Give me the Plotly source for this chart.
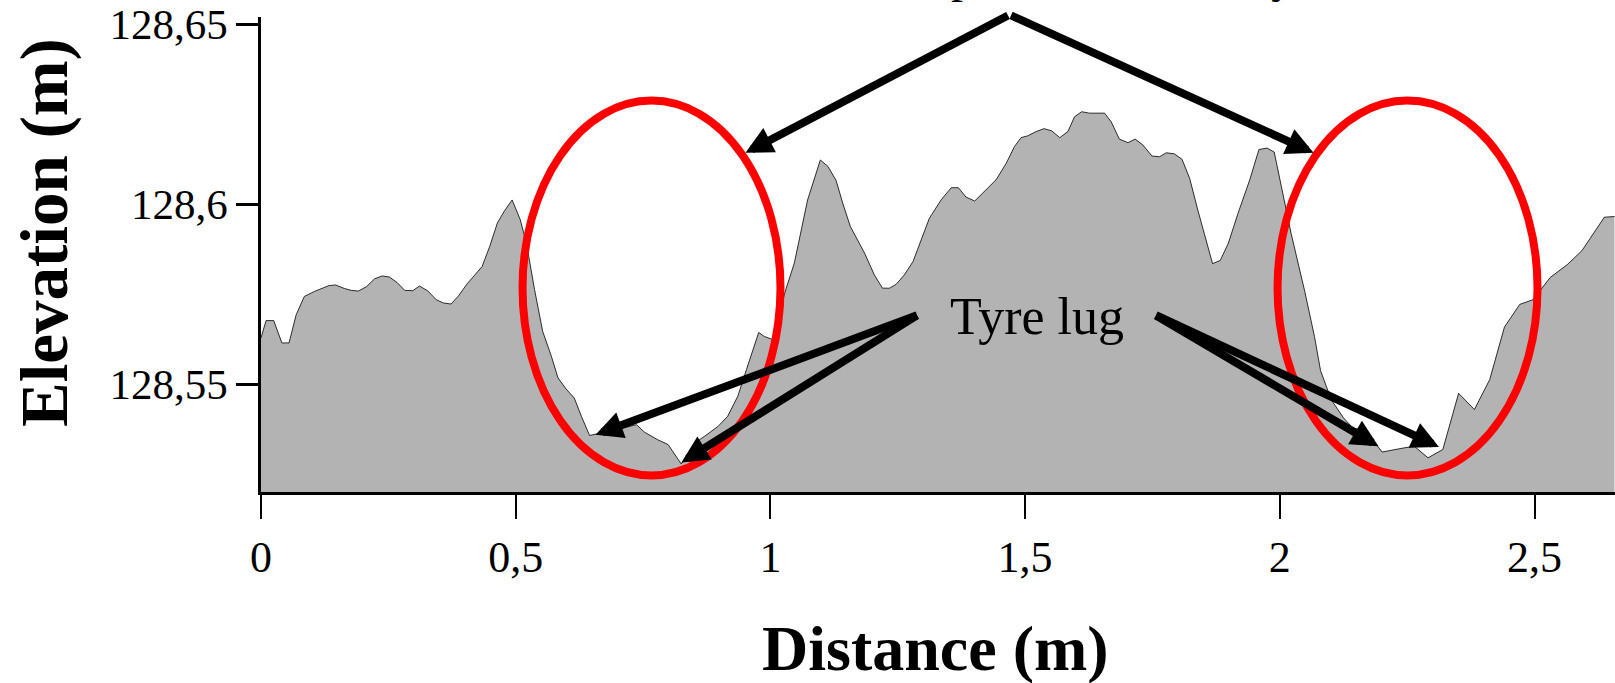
import plotly.graph_objects as go

# ---------------- data ----------------
distance = [
    0.000, 0.010, 0.025, 0.041, 0.055, 0.069, 0.085, 0.105, 0.133, 0.146,
    0.164, 0.177, 0.191, 0.207, 0.223, 0.238, 0.252, 0.267, 0.282, 0.298,
    0.311, 0.327, 0.344, 0.358, 0.373, 0.388, 0.404, 0.419, 0.434, 0.449,
    0.464, 0.478, 0.493, 0.509, 0.521, 0.537, 0.553, 0.570, 0.583, 0.599,
    0.615, 0.629, 0.645, 0.658, 0.698, 0.737, 0.753, 0.779, 0.799, 0.825,
    0.851, 0.871, 0.897, 0.916, 0.936, 0.953, 0.965, 0.977, 0.988, 1.005,
    1.028, 1.047, 1.073, 1.098, 1.113, 1.129, 1.142, 1.157, 1.185, 1.204,
    1.220, 1.234, 1.247, 1.263, 1.280, 1.296, 1.312, 1.335, 1.355, 1.369,
    1.384, 1.401, 1.420, 1.443, 1.463, 1.479, 1.492, 1.505, 1.522, 1.537,
    1.552, 1.568, 1.584, 1.597, 1.611, 1.626, 1.656, 1.669, 1.685, 1.702,
    1.716, 1.731, 1.749, 1.764, 1.777, 1.793, 1.808, 1.823, 1.839, 1.852,
    1.868, 1.883, 1.899, 1.918, 1.941, 1.959, 1.975, 1.989, 2.004, 2.022,
    2.049, 2.068, 2.080, 2.101, 2.125, 2.143, 2.168, 2.201, 2.242, 2.264,
    2.291, 2.320, 2.351, 2.382, 2.412, 2.441, 2.471, 2.497, 2.531, 2.564,
    2.593, 2.637, 2.657,
]

elevation = [
    128.5629, 128.5677, 128.5677, 128.5615, 128.5615, 128.5693, 128.5744, 128.5758, 128.5774, 128.5776,
    128.5766, 128.5761, 128.5759, 128.5771, 128.5793, 128.5801, 128.5798, 128.5783, 128.5761, 128.5760,
    128.5773, 128.5760, 128.5735, 128.5726, 128.5723, 128.5746, 128.5778, 128.5804, 128.5827, 128.5883,
    128.5948, 128.5982, 128.6012, 128.5957, 128.5892, 128.5763, 128.5647, 128.5578, 128.5518, 128.5487,
    128.5462, 128.5411, 128.5358, 128.5362, 128.5374, 128.5388, 128.5367, 128.5346, 128.5333, 128.5279,
    128.5337, 128.5356, 128.5383, 128.5411, 128.5467, 128.5541, 128.5596, 128.5644, 128.5633, 128.5624,
    128.5753, 128.5837, 128.6012, 128.6123, 128.6105, 128.6066, 128.6003, 128.5938, 128.5864, 128.5804,
    128.5767, 128.5767, 128.5778, 128.5804, 128.5841, 128.5901, 128.5961, 128.6012, 128.6046, 128.6046,
    128.6020, 128.6009, 128.6035, 128.6068, 128.6114, 128.6160, 128.6185, 128.6190, 128.6202, 128.6210,
    128.6204, 128.6185, 128.6202, 128.6243, 128.6257, 128.6253, 128.6253, 128.6229, 128.6181, 128.6171,
    128.6181, 128.6165, 128.6134, 128.6132, 128.6143, 128.6140, 128.6125, 128.6072, 128.5984, 128.5920,
    128.5835, 128.5844, 128.5892, 128.5975, 128.6068, 128.6152, 128.6156, 128.6145, 128.6045, 128.5920,
    128.5758, 128.5633, 128.5538, 128.5457, 128.5407, 128.5379, 128.5371, 128.5312, 128.5323, 128.5328,
    128.5296, 128.5319, 128.5475, 128.5430, 128.5513, 128.5659, 128.5722, 128.5735, 128.5797, 128.5832,
    128.5871, 128.5964, 128.5966,
]

x_tick_vals = [0, 0.5, 1, 1.5, 2, 2.5]
x_tick_text = ["0", "0,5", "1", "1,5", "2", "2,5"]
y_tick_vals = [128.55, 128.6, 128.65]
y_tick_text = ["128,55", "128,6", "128,65"]

x_title = "Distance (m)"
y_title = "Elevation (m)"
lug_label = "Tyre lug"
top_label = "Soil compaction caused by"

# highlighted tyre zones (distance span, elevation span)
zones = [
    (0.5134, 1.0198, 128.5247, 128.6288),
    (1.9955, 2.5059, 128.5247, 128.6288),
]

# arrows: tip (distance, elevation) and tail offset in pixels
zone_arrows = [
    (0.9511, 128.6143, 264, -138),
    (2.0662, 128.6143, -304, -138),
]
lug_arrows = [
    (0.6567, 128.5360, 323, -120),
    (0.8255, 128.5283, 237, -148),
    (2.1937, 128.5328, -224, -131.5),
    (2.3125, 128.5326, -284.5, -132.5),
]

FONT = "Liberation Serif, Times New Roman, serif"

fig = go.Figure()
fig.add_trace(go.Scatter(
    x=distance, y=elevation, mode="lines",
    fill="tozeroy", fillcolor="rgb(179,179,179)",
    line=dict(color="black", width=0.8),
    hoverinfo="skip", showlegend=False,
))

for x0, x1, y0, y1 in zones:
    fig.add_shape(type="circle", xref="x", yref="y", x0=x0, x1=x1, y0=y0, y1=y1,
                  line=dict(color="#ff0000", width=8), layer="above")

for tx, ty, ax, ay in zone_arrows + lug_arrows:
    fig.add_annotation(x=tx, y=ty, xref="x", yref="y", ax=ax, ay=ay,
                       text="", showarrow=True, arrowhead=2, arrowsize=0.68,
                       arrowwidth=8, arrowcolor="black", standoff=0)

fig.add_annotation(text=lug_label, xref="paper", yref="paper", x=0.5728, y=0.369,
                   showarrow=False, xanchor="center", yanchor="middle",
                   font=dict(family=FONT, size=52, color="black"))
fig.add_annotation(text=top_label, xref="paper", yref="paper", x=0.5728, y=1.028,
                   showarrow=False, xanchor="center", yanchor="bottom",
                   font=dict(family=FONT, size=48, color="black"))
fig.add_annotation(text=x_title, xref="paper", yref="paper", x=0.4985, y=-0.330,
                   showarrow=False, xanchor="center", yanchor="middle",
                   font=dict(family=FONT, size=64, color="black", weight="bold"))
fig.add_annotation(text=y_title, xref="paper", yref="paper", x=-0.160, y=0.546,
                   showarrow=False, xanchor="center", yanchor="middle", textangle=-90,
                   font=dict(family=FONT, size=67, color="black", weight="bold"))

fig.update_layout(
    width=1615, height=683,
    margin=dict(l=261, r=0, t=17, b=191, pad=0),
    paper_bgcolor="white", plot_bgcolor="white",
    showlegend=False,
    font=dict(family=FONT, color="black"),
    xaxis=dict(range=[0, 2.658], showline=True, linecolor="black", linewidth=3,
               ticks="outside", ticklen=24, tickwidth=2, tickcolor="black",
               tickvals=x_tick_vals, ticktext=x_tick_text,
               tickfont=dict(family=FONT, size=44, color="black"),
               showgrid=False, zeroline=False, fixedrange=True),
    yaxis=dict(range=[128.5201, 128.6520], showline=True, linecolor="black", linewidth=2.5,
               ticks="outside", ticklen=22, tickwidth=2.5, tickcolor="black",
               tickvals=y_tick_vals, ticktext=y_tick_text,
               tickfont=dict(family=FONT, size=43, color="black"),
               showgrid=False, zeroline=False, fixedrange=True),
)

fig.write_html("out.html", config={"displayModeBar": False})
